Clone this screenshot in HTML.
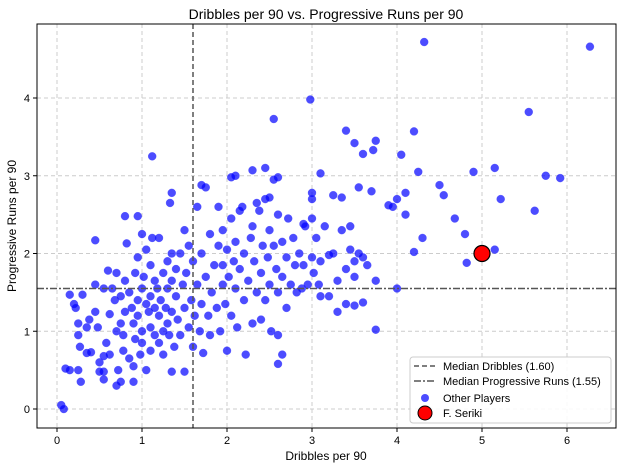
<!DOCTYPE html>
<html><head><meta charset="utf-8"><style>
body{margin:0;background:#fff;font-family:"Liberation Sans",sans-serif}
text{font-family:"Liberation Sans",sans-serif}
</style></head><body>
<svg id="chart" width="624" height="468" xmlns="http://www.w3.org/2000/svg">
<rect width="624" height="468" fill="#fff"/>
<text x="326" y="19" text-anchor="middle" font-size="14">Dribbles per 90 vs. Progressive Runs per 90</text>
<g id="grid"></g>
<g id="points"></g>
<g id="axes"></g>
<text x="326" y="460" text-anchor="middle" font-size="12">Dribbles per 90</text>
<text transform="translate(16,226) rotate(-90)" text-anchor="middle" font-size="12">Progressive Runs per 90</text>
<g id="legend">
<rect x="410" y="357" width="201" height="66" rx="3" fill="#fff" fill-opacity="0.85" stroke="#ccc"/>
<line x1="414" y1="366" x2="436" y2="366" stroke="#555" stroke-dasharray="5,3" stroke-width="1.5"/>
<text x="443" y="370" font-size="11">Median Dribbles (1.60)</text>
<line x1="414" y1="381" x2="436" y2="381" stroke="#555" stroke-dasharray="7,2,2,2" stroke-width="1.5"/>
<text x="443" y="385" font-size="11">Median Progressive Runs (1.55)</text>
<circle cx="425" cy="398" r="4" fill="#0000ff" fill-opacity="0.7"/>
<text x="443" y="402" font-size="11">Other Players</text>
<circle cx="425" cy="413" r="7" fill="red" stroke="#000"/>
<text x="443" y="417" font-size="11">F. Seriki</text>
</g>
</svg>
<script>
const dribbles=[0.05,0.08,4.32,6.27,2.98,1.12,2.55,5.55,5.92,5.75,5.62,5.15,5.22,4.9,4.8,4.82,4.68,4.5,4.55,4.3,4.2,4.1,4.1,4.25,4.05,4.2,3.75,3.72,3.4,3.5,3.6,3.9,3.95,4.0,3.7,3.55,4.0,3.75,3.6,3.5,3.4,3.5,3.6,3.3,3.1,3.2,3.25,3.35,3.1,3.0,3.0,2.9,2.6,2.55,2.45,2.3,2.1,2.05,1.75,1.7,1.35,1.33,0.8,0.45,0.95,1.0,0.15,0.1,0.15,0.25,0.28,0.55,0.55,0.7,0.9,0.75,2.6,2.65,2.6,1.35,1.5,5.15,3.75,
0.2,0.22,0.25,0.25,0.27,0.3,0.35,0.35,0.4,0.38,0.45,0.45,0.48,0.5,0.5,0.55,0.55,0.58,0.6,0.62,0.62,0.65,0.68,0.7,0.7,0.72,0.75,0.75,0.78,0.78,0.8,0.8,0.82,0.85,0.85,0.88,0.9,0.9,0.92,0.92,0.95,0.95,0.95,0.98,1.0,1.0,1.0,1.02,1.05,1.05,1.05,1.08,1.1,1.1,1.1,1.1,1.12,1.15,1.15,1.15,1.18,1.2,1.2,1.2,1.22,1.25,1.25,1.25,1.28,1.3,1.3,1.3,1.32,1.35,1.35,1.35,1.38,1.4,1.4,1.42,1.45,1.45,1.48,1.5,1.5,1.52,1.55,1.55,1.58,1.6,1.6,1.62,1.65,1.65,1.68,1.7,1.7,1.72,1.75,1.78,1.8,1.8,1.82,1.85,1.88,1.9,1.9,1.92,1.95,1.95,1.98,2.0,2.0,2.02,2.05,2.05,2.08,2.1,2.1,2.12,2.15,2.18,2.2,2.2,2.22,2.25,2.28,2.3,2.3,2.32,2.35,2.38,2.4,2.4,2.42,2.45,2.45,2.48,2.5,2.5,2.52,2.55,2.58,2.6,2.6,2.65,2.65,2.7,2.7,2.72,2.75,2.78,2.8,2.82,2.85,2.88,2.9,2.92,2.95,3.0,3.0,3.02,3.05,3.08,3.1,3.15,3.2,3.25,3.3,3.35,3.4,3.45,3.5,3.55,3.45,3.65,2.5,2.35,2.15,1.95];
const progRuns=[0.05,0.0,4.72,4.66,3.98,3.25,3.73,3.82,2.97,3.0,2.55,3.1,2.7,3.05,2.25,1.88,2.45,2.88,2.75,2.2,2.02,2.78,2.5,3.05,3.27,3.57,3.45,3.33,3.58,3.42,3.28,2.62,2.6,2.7,2.8,2.85,1.55,1.02,1.95,1.7,1.35,1.33,1.37,1.25,1.45,1.98,2.75,2.72,3.03,2.78,2.7,2.38,2.98,2.95,3.1,3.07,3.0,2.98,2.85,2.88,2.78,2.65,2.48,2.17,2.48,2.25,1.47,0.52,0.5,0.5,0.35,0.38,0.48,0.3,0.35,0.35,0.58,0.7,0.95,0.48,0.48,2.05,1.65,
1.35,1.3,1.1,0.95,0.8,1.47,1.05,0.72,0.73,1.15,1.6,1.25,1.05,0.6,0.48,0.68,1.55,0.85,1.78,1.22,0.7,1.55,1.4,1.75,1.0,0.5,1.45,1.1,0.95,0.75,1.65,1.25,2.13,1.5,0.65,1.3,1.1,0.55,1.75,0.9,1.95,1.4,1.2,0.7,1.55,1.0,0.85,1.7,2.05,1.35,0.5,1.25,1.85,1.45,1.05,0.75,2.2,1.65,1.3,0.95,1.55,1.2,0.85,2.2,1.4,1.75,1.0,0.7,1.3,1.9,1.55,1.1,0.95,2.0,1.65,1.25,0.8,1.45,1.8,1.15,2.0,0.95,1.6,1.3,2.3,1.75,1.05,2.1,1.4,1.9,0.8,1.2,1.6,2.6,1.0,1.35,2.0,0.72,1.7,1.2,2.25,0.95,1.5,1.85,1.3,2.1,2.6,1.0,1.6,1.85,1.35,2.05,0.75,1.7,2.45,1.2,1.9,1.55,2.15,1.05,1.8,2.6,1.4,2.0,0.7,1.65,2.2,1.1,2.35,1.9,1.5,2.55,1.75,1.15,2.1,2.7,1.4,1.95,2.3,1.6,1.0,2.1,1.8,2.5,1.5,2.15,1.7,1.3,1.95,2.45,1.6,2.2,1.85,1.5,2.0,1.55,1.85,2.35,1.6,2.45,1.95,1.75,2.2,1.6,1.9,2.35,1.45,2.0,1.65,2.3,1.8,2.05,1.9,2.0,2.35,1.85,2.72,2.65,2.55,2.3];
const xTicks=[0,1,2,3,4,5,6];
const yTicks=[0,1,2,3,4];
const medianX=1.60, medianY=1.55;
const seriki=[5.0,2.0];
const L=37,R=616,T=24,B=428;
const sx=v=>57+v*85, sy=v=>409-v*77.75;
const NS="http://www.w3.org/2000/svg";
function mk(tag,attrs,parent){const e=document.createElementNS(NS,tag);for(const k in attrs)e.setAttribute(k,attrs[k]);parent.appendChild(e);return e;}
const grid=document.getElementById('grid'),axes=document.getElementById('axes'),pts=document.getElementById('points');
xTicks.forEach(t=>{
 const g=mk('line',{x1:sx(t),x2:sx(t),y1:T,y2:B,stroke:'#ccc','stroke-dasharray':'4,3'},grid);
 
 
 mk('line',{x1:sx(t),x2:sx(t),y1:B,y2:B+4,stroke:'#000'},axes);
 const tx=mk('text',{x:sx(t),y:B+16,'text-anchor':'middle','font-size':11},axes);tx.textContent=t;
 
 
});
yTicks.forEach(t=>{
 const g=mk('line',{x1:L,x2:R,y1:sy(t),y2:sy(t),stroke:'#ccc','stroke-dasharray':'4,3'},grid);
 
 
 mk('line',{x1:L-4,x2:L,y1:sy(t),y2:sy(t),stroke:'#000'},axes);
 const tx=mk('text',{x:L-7,y:sy(t)+4,'text-anchor':'end','font-size':11},axes);tx.textContent=t;
 
 
});
dribbles.forEach((d,i)=>{
 const c=mk('circle',{cx:sx(d),cy:sy(progRuns[i]),r:4,fill:'#0000ff','fill-opacity':0.7,stroke:'#4444ff','stroke-opacity':0.6,'stroke-width':0.5},pts);
 
 
});
const mx=mk('line',{x1:sx(medianX),x2:sx(medianX),y1:T,y2:B,stroke:'#555','stroke-dasharray':'5,3','stroke-width':1.5},axes);


const my=mk('line',{x1:L,x2:R,y1:sy(medianY),y2:sy(medianY),stroke:'#555','stroke-dasharray':'7,2,2,2','stroke-width':1.5},axes);


const sp=mk('circle',{cx:sx(seriki[0]),cy:sy(seriki[1]),r:8,fill:'red',stroke:'#000','stroke-width':1.2},axes);


const fr=mk('rect',{x:L,y:T,width:R-L,height:B-T,fill:'none',stroke:'#000'},axes);


const svg=document.getElementById('chart');
svg.appendChild(document.getElementById('legend'));
</script>
</body></html>
